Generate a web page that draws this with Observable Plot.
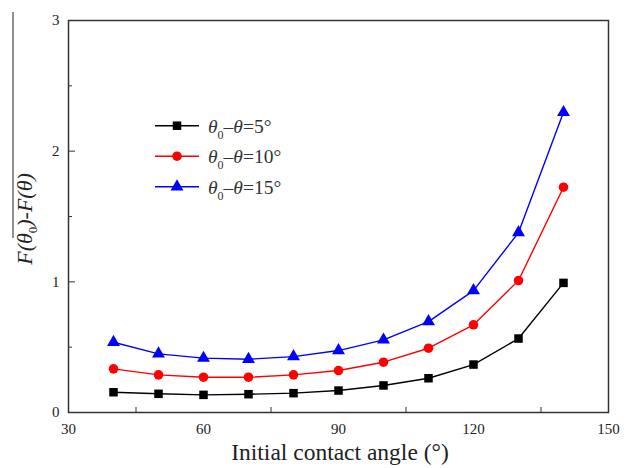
<!DOCTYPE html>
<html>
<head>
<meta charset="utf-8">
<script src="https://cdn.jsdelivr.net/npm/d3@7"></script>
<script src="https://cdn.jsdelivr.net/npm/@observablehq/plot@0.6"></script>
<style>
  html, body { margin: 0; padding: 0; background: #fff; }
  #chart { position: relative; width: 630px; height: 468px; }
  #chart svg, #chart svg text { font-family: 'Liberation Serif', 'Times New Roman', serif; }
</style>
</head>
<body>
<div id="chart"></div>
<script>
const angles = [40, 50, 60, 70, 80, 90, 100, 110, 120, 130, 140];
const series = ["5°", "10°", "15°"];
const colors = ["#000000", "#ff0000", "#0000ff"];
const symbols = ["square", "circle", "triangle"];
const vals5  = [0.155, 0.143, 0.135, 0.140, 0.148, 0.168, 0.207, 0.262, 0.367, 0.566, 0.992];
const vals10 = [0.334, 0.288, 0.270, 0.270, 0.288, 0.321, 0.385, 0.492, 0.671, 1.010, 1.724];
const vals15 = [0.538, 0.449, 0.416, 0.408, 0.428, 0.474, 0.556, 0.696, 0.933, 1.377, 2.297];
const xMajor = [30, 60, 90, 120, 150];
const xMinor = [45, 75, 105, 135];
const yMajor = [0, 1, 2, 3];
const yMinor = [0.5, 1.5, 2.5];

const allVals = [vals5, vals10, vals15];
const data = [];
series.forEach((s, i) => angles.forEach((a, j) => data.push({series: s, angle: a, value: allVals[i][j]})));

const font = "'Liberation Serif', 'Times New Roman', serif";

const plot = Plot.plot({
  width: 630, height: 468,
  marginLeft: 68, marginRight: 22, marginTop: 20, marginBottom: 56,
  style: {fontFamily: font, background: "#fff", overflow: "visible"},
  x: {domain: [30, 150]},
  y: {domain: [0, 3]},
  color: {domain: series, range: colors},
  symbol: {domain: series, range: symbols},
  marks: [
    Plot.axisX({ticks: xMajor, tickSize: 0, tickPadding: 11, fontSize: 15, label: null, tickFormat: d => String(d), fill: "#222"}),
    Plot.axisX({ticks: xMinor, tickSize: -5, tickFormat: () => "", label: null, stroke: "#333"}),
    Plot.axisY({ticks: yMajor, tickSize: 0, tickPadding: 9, fontSize: 15, label: null, tickFormat: d => String(d), fill: "#222"}),
    Plot.axisY({ticks: yMajor, tickSize: -7, tickFormat: () => "", label: null, stroke: "#333"}),
    Plot.axisY({ticks: yMinor, tickSize: -4, tickFormat: () => "", label: null, stroke: "#333"}),
    Plot.line(data, {x: "angle", y: "value", z: "series", stroke: "series", strokeWidth: 1.4}),
    Plot.dot(data, {x: "angle", y: "value", symbol: "series", fill: "series", stroke: "none", r: 4.8}),
    Plot.frame({stroke: "#333", strokeWidth: 1.5})
  ]
});

document.getElementById("chart").appendChild(plot);
const svg = d3.select(plot);

// stray border line from original figure
svg.append("line").attr("x1", 13).attr("x2", 13).attr("y1", 12).attr("y2", 238)
  .attr("stroke", "#222").attr("stroke-width", 1);

// X title
svg.append("text").attr("x", 340).attr("y", 460).attr("text-anchor", "middle")
  .attr("font-size", 23.5).attr("fill", "#222")
  .text("Initial contact angle (°)");

// Y title
const yt = svg.append("text").attr("transform", "translate(32,219) rotate(-90)")
  .attr("text-anchor", "middle").attr("font-size", 22).attr("fill", "#222");
yt.append("tspan").attr("font-style", "italic").text("F(θ");
yt.append("tspan").attr("font-size", 13).attr("dy", 5).text("0");
yt.append("tspan").attr("font-style", "italic").attr("dy", -5).text(")-F(θ)");

// Legend
series.forEach((s, i) => {
  const cy = 125.7 + i * 30.5;
  const g = svg.append("g");
  g.append("line").attr("x1", 155).attr("x2", 199).attr("y1", cy).attr("y2", cy)
    .attr("stroke", colors[i]).attr("stroke-width", 1.4);
  const sym = [d3.symbolSquare, d3.symbolCircle, d3.symbolTriangle][i];
  g.append("path").attr("d", d3.symbol(sym, Math.PI * 4.8 * 4.8)())
    .attr("transform", `translate(177,${cy})`).attr("fill", colors[i]);
  const t = g.append("text").attr("x", 208).attr("y", cy + 7).attr("text-anchor", "start")
    .attr("font-size", 19.5).attr("fill", "#333");
  t.append("tspan").attr("font-style", "italic").text("θ");
  t.append("tspan").attr("font-size", 12).attr("dy", 6).text("0");
  t.append("tspan").attr("dy", -6).text("–");
  t.append("tspan").attr("font-style", "italic").text("θ");
  t.append("tspan").text("=" + s);
});
</script>
</body>
</html>
